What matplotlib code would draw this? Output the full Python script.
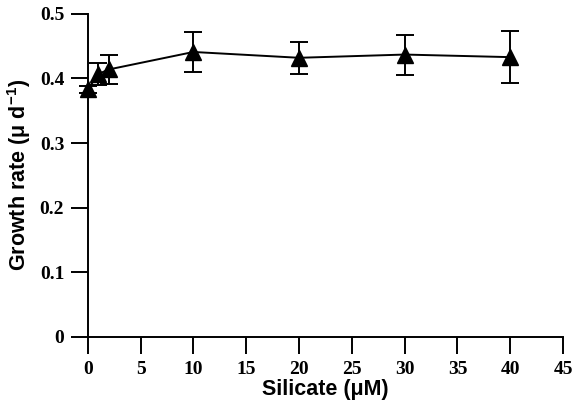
import matplotlib
matplotlib.use("Agg")
import matplotlib.pyplot as plt

# silicate concentration vs growth rate
silicate = [0, 1, 2, 10, 20, 30, 40]
growth = [0.383, 0.407, 0.414, 0.441, 0.432, 0.437, 0.433]
err = [0.005, 0.017, 0.022, 0.031, 0.025, 0.031, 0.040]
xticks = [0, 5, 10, 15, 20, 25, 30, 35, 40, 45]
yticks = [0, 0.1, 0.2, 0.3, 0.4, 0.5]
ylabels = ["0", "0.1", "0.2", "0.3", "0.4", "0.5"]

plt.rcParams['mathtext.fontset'] = 'custom'
plt.rcParams['mathtext.rm'] = 'Liberation Sans:bold'
plt.rcParams['mathtext.bf'] = 'Liberation Sans:bold'
plt.rcParams['mathtext.default'] = 'bf'

fig = plt.figure(figsize=(5.74, 4.07), dpi=100)
ax = fig.add_axes([0.153, 0.172, 0.828, 0.794])

ax.errorbar(silicate, growth, yerr=err, color='black', marker='^', markersize=12,
            linewidth=1.4, elinewidth=1.4, capsize=6.5, capthick=1.4, clip_on=False)

ax.set_xlim(0, 45)
ax.set_ylim(0, 0.5)
ax.set_xticks(xticks)
ax.set_yticks(yticks)
ax.set_yticklabels(ylabels)
ax.spines['top'].set_visible(False)
ax.spines['right'].set_visible(False)
ax.spines['left'].set_linewidth(1.4)
ax.spines['bottom'].set_linewidth(1.4)
ax.tick_params(direction='out', length=12, width=1.4, pad=5)
for lab in ax.get_xticklabels() + ax.get_yticklabels():
    lab.set_fontfamily('Liberation Serif')
    lab.set_fontweight('bold')
    lab.set_fontsize(14)

ax.set_xlabel('Silicate (μM)', fontfamily='Liberation Sans', fontweight='bold', fontsize=15.5, labelpad=1)
ax.set_ylabel('Growth rate (μ d$^{-1}$)', fontfamily='Liberation Sans', fontweight='bold', fontsize=15.5, labelpad=5)

fig.savefig('out.png', dpi=100)
